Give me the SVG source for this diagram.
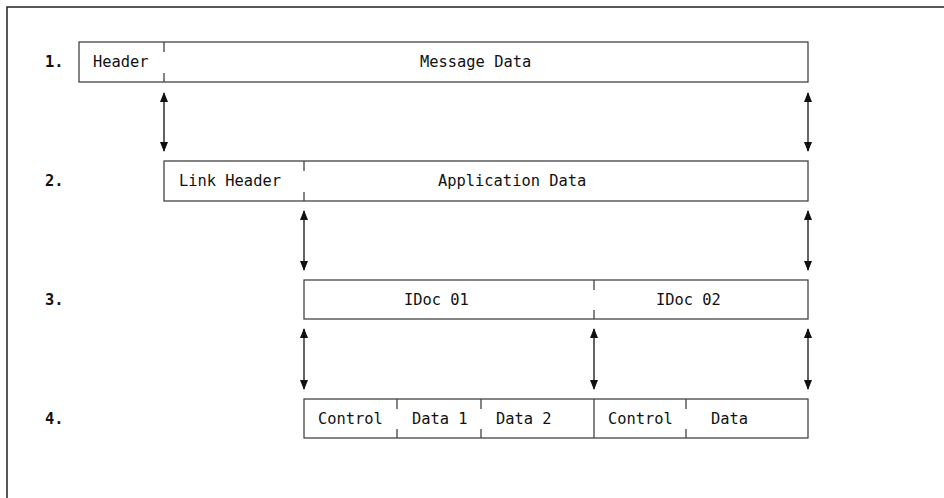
<svg xmlns="http://www.w3.org/2000/svg" width="944" height="498" viewBox="0 0 944 498">
  <style>
    .frame { fill: none; stroke: #222; stroke-width: 1.5; }
    .box { fill: #fff; stroke: #444; stroke-width: 1.3; }
    .sep { stroke: #444; stroke-width: 1.3; fill: none; }
    .txt { font-family: "DejaVu Sans Mono", "Liberation Mono", monospace; font-size: 15.4px; fill: #111; }
    .num { font-family: "DejaVu Sans Mono", "Liberation Mono", monospace; font-size: 15.4px; font-weight: bold; fill: #111; }
    .link { stroke: #222; stroke-width: 1.4; fill: none; marker-start: url(#head); marker-end: url(#head); }
  </style>
  <defs>
    <marker id="head" viewBox="0 0 10 8" refX="9" refY="4" markerWidth="10" markerHeight="8" markerUnits="userSpaceOnUse" orient="auto-start-reverse">
      <path d="M0,0 L10,4 L0,8 Z" fill="#111"/>
    </marker>
  </defs>

  <!-- open frame: top and left edges only -->
  <path class="frame" d="M7,498 V7 H944"/>

  <!-- level numbers -->
  <g id="labels">
    <text class="num" x="45" y="67">1.</text>
    <text class="num" x="45" y="186">2.</text>
    <text class="num" x="45" y="305">3.</text>
    <text class="num" x="45" y="424">4.</text>
  </g>

  <!-- level 1: message -->
  <g id="message">
    <rect class="box" x="79" y="42" width="729" height="40"/>
    <path class="sep" d="M164,42 v10 M164,82 v-9"/>
    <text class="txt" x="93" y="67">Header</text>
    <text class="txt" x="420" y="67">Message Data</text>
  </g>

  <!-- level 2: link layer -->
  <g id="link">
    <rect class="box" x="164" y="161" width="644" height="40"/>
    <path class="sep" d="M304,161 v10 M304,201 v-9"/>
    <text class="txt" x="179" y="186">Link Header</text>
    <text class="txt" x="438" y="186">Application Data</text>
  </g>

  <!-- level 3: IDocs -->
  <g id="idocs">
    <rect class="box" x="304" y="280" width="504" height="39"/>
    <path class="sep" d="M594,280 v10 M594,319 v-9"/>
    <text class="txt" x="404" y="305">IDoc 01</text>
    <text class="txt" x="656" y="305">IDoc 02</text>
  </g>

  <!-- level 4: records -->
  <g id="records">
    <rect class="box" x="304" y="399" width="504" height="39"/>
    <path class="sep" d="M397,399 v10 M397,438 v-9 M481,399 v10 M481,438 v-9 M594,399 V438 M686,399 v10 M686,438 v-9"/>
    <text class="txt" x="318" y="424">Control</text>
    <text class="txt" x="412" y="424">Data 1</text>
    <text class="txt" x="496" y="424">Data 2</text>
    <text class="txt" x="608" y="424">Control</text>
    <text class="txt" x="711" y="424">Data</text>
  </g>

  <!-- correspondence arrows between levels -->
  <g id="connectors">
    <line class="link" x1="164" y1="93" x2="164" y2="151"/>
    <line class="link" x1="808" y1="93" x2="808" y2="151"/>
    <line class="link" x1="304" y1="211" x2="304" y2="270"/>
    <line class="link" x1="808" y1="211" x2="808" y2="270"/>
    <line class="link" x1="304" y1="329" x2="304" y2="389"/>
    <line class="link" x1="594" y1="329" x2="594" y2="389"/>
    <line class="link" x1="808" y1="329" x2="808" y2="389"/>
  </g>
</svg>
